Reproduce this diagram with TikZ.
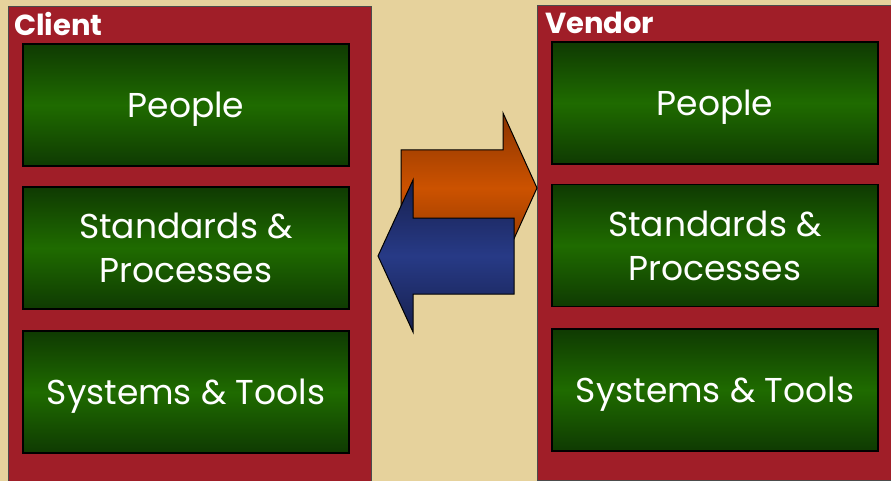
\documentclass[tikz,border=0pt]{standalone}
\usepackage{fontspec}
\setmainfont{Poppins}
\usepackage{xcolor}
\usepackage{tikz}

\definecolor{sand}{HTML}{E6D29C}
\definecolor{wine}{HTML}{A01E28}
\definecolor{leafdark}{HTML}{0F3A02}
\definecolor{leaf}{HTML}{1F6B00}
\definecolor{rustdark}{HTML}{8A3400}
\definecolor{rust}{HTML}{CC5200}
\definecolor{navydark}{HTML}{17204E}
\definecolor{navy}{HTML}{273A86}

\begin{document}
\begin{tikzpicture}[x=1pt, y=-1pt,
    panel/.style={draw=black!70, line width=0.8pt, fill=wine, inner sep=0pt},
    greenbox/.style={draw=black, line width=1.2pt, minimum width=326pt, minimum height=122pt,
        top color=leafdark, bottom color=leafdark, middle color=leaf,
        text=white, font=\fontsize{34.5}{44}\selectfont, align=center, inner sep=0pt, text depth=0pt},
    side/.style={anchor=base west, text=white, font=\fontsize{29}{30}\selectfont\bfseries, inner sep=0pt}]
    \fill[sand] (0,0) rectangle (891,481);
    \useasboundingbox (0,0) rectangle (891,481);

    % the two sides
    \draw[panel] (8,6) rectangle (371,486);
    \draw[panel] (537,5) rectangle (895,480);
    \node (client) at (14,36) [side] {Client};
    \node (vendor) at (545,34) [side] {Vendor};

    \node (1) at (186,105) [greenbox] {People};
    \node (2) at (186,248) [greenbox] {Standards \&\\Processes};
    \node (3) at (186,392) [greenbox] {Systems \& Tools};
    \node (4) at (715,103) [greenbox] {People};
    \node (5) at (715,245.5) [greenbox] {Standards \&\\Processes};
    \node (6) at (715,390) [greenbox] {Systems \& Tools};

    % exchange arrows
    \draw[line width=1pt, top color=rustdark, bottom color=rustdark, middle color=rust]
        (401,150) -- (503,150) -- (503,113) -- (537,188) -- (503,263) -- (503,226) -- (401,226) -- cycle;
    \draw[line width=1pt, top color=navydark, bottom color=navydark, middle color=navy]
        (514,218) -- (413,218) -- (413,180) -- (378,256) -- (413,332) -- (413,294) -- (514,294) -- cycle;
\end{tikzpicture}
\end{document}
